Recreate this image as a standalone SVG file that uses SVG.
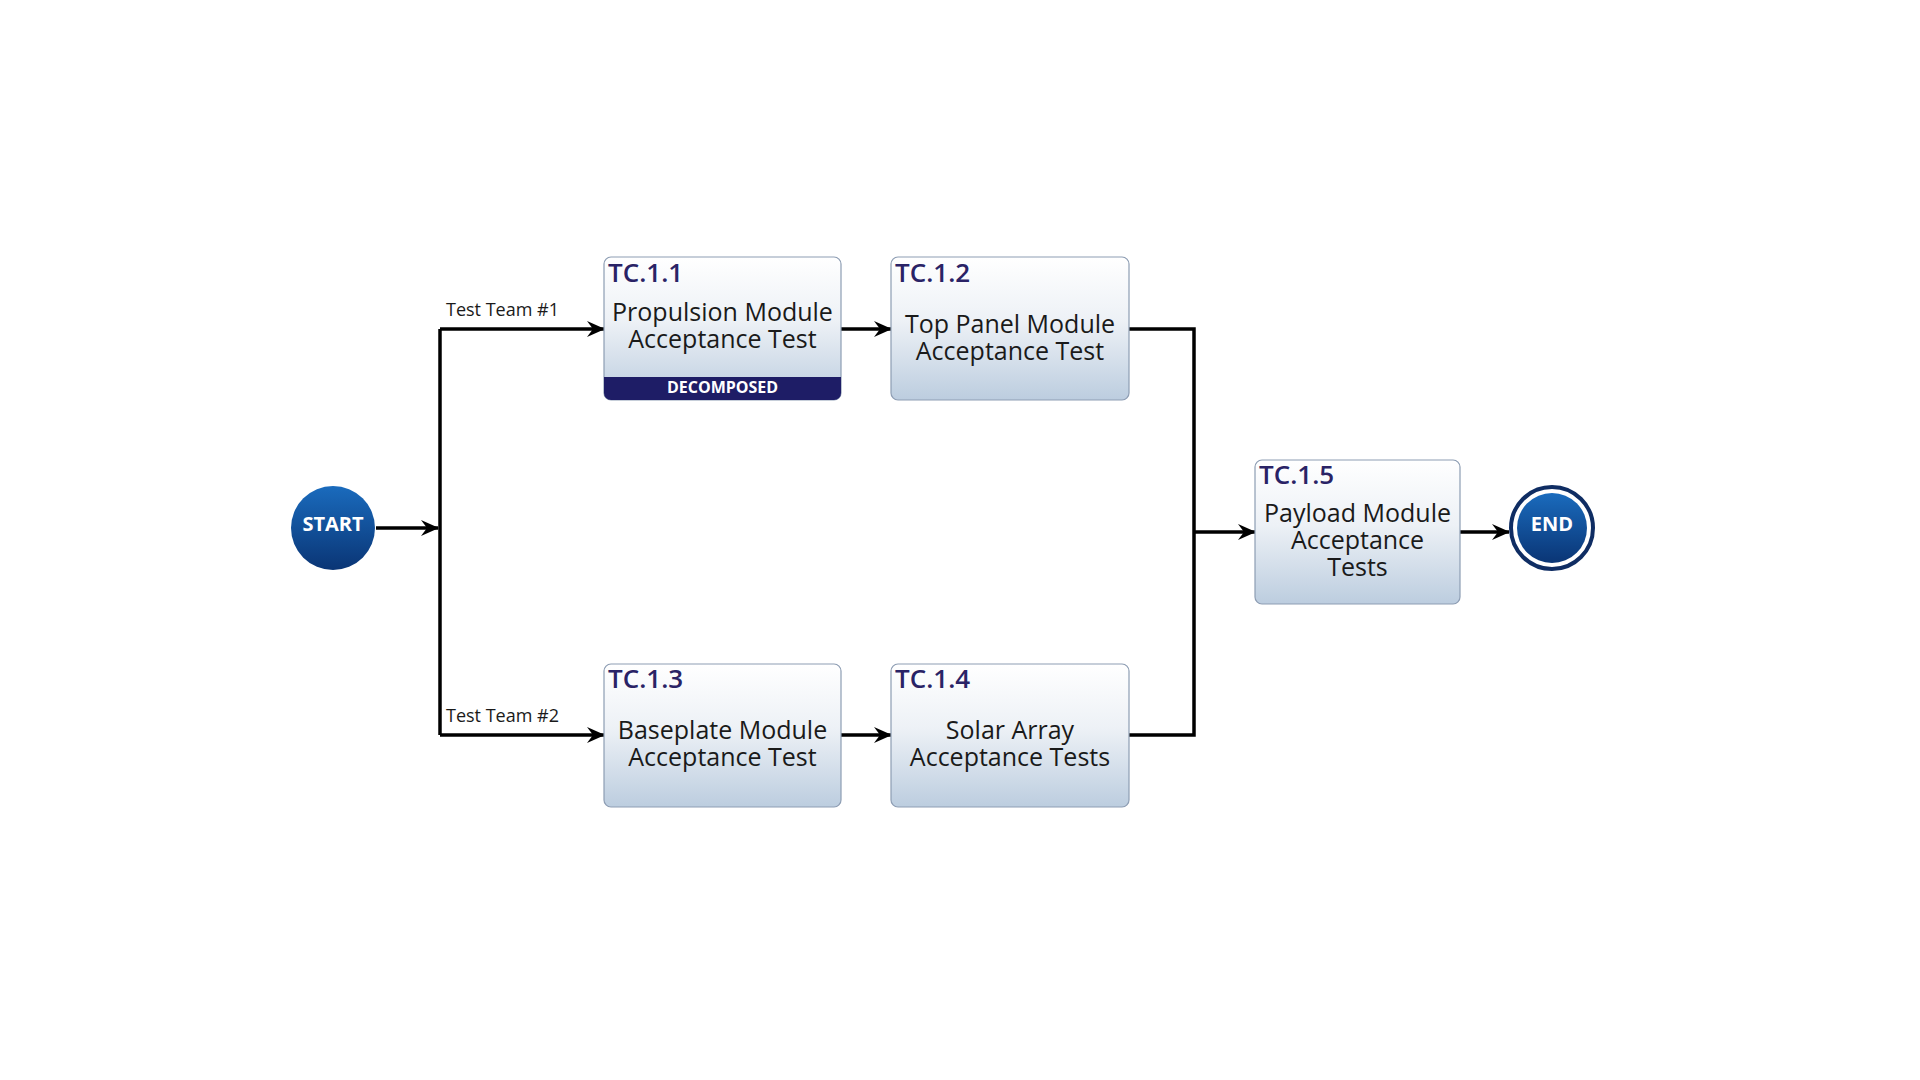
<svg xmlns="http://www.w3.org/2000/svg" width="1920" height="1080" viewBox="0 0 1920 1080">
<defs>
  <linearGradient id="boxGrad" x1="0" y1="0" x2="0" y2="1">
    <stop offset="0" stop-color="#ffffff"/>
    <stop offset="0.45" stop-color="#edf1f6"/>
    <stop offset="1" stop-color="#bccddf"/>
  </linearGradient>
  <linearGradient id="circGrad" x1="0" y1="0" x2="0" y2="1">
    <stop offset="0" stop-color="#1a6bbd"/>
    <stop offset="1" stop-color="#0a3575"/>
  </linearGradient>
  <marker id="arrow" viewBox="0 0 18 16" refX="17" refY="8" markerWidth="18" markerHeight="16" markerUnits="userSpaceOnUse" orient="auto">
    <path d="M0,0 L18,8 L0,16 L6,8 Z" fill="#000"/>
  </marker>
  <style>
    .box { fill: url(#boxGrad); stroke: #8d9db3; stroke-width: 1.2; }
    .id { font-family: "Open Sans", "Noto Sans", sans-serif; font-size: 26px; font-weight: 600; fill: #2a2366; }
    .body { font-family: "Open Sans", "Noto Sans", sans-serif; font-size: 25px; fill: #1a1a1a; text-anchor: middle; }
    .lbl { font-family: "Open Sans", "Noto Sans", sans-serif; font-size: 18px; fill: #1a1a1a; }
    .circ { font-family: "Open Sans", "Noto Sans", sans-serif; font-size: 20px; font-weight: 700; fill: #ffffff; text-anchor: middle; }
    .conn { fill: none; stroke: #000; stroke-width: 3.5; }
  </style>
</defs>
<rect width="1920" height="1080" fill="#ffffff"/>

<g id="connectors">
  <path class="conn" d="M376,528 L438,528" marker-end="url(#arrow)"/>
  <path class="conn" d="M440,329 L440,735"/>
  <path class="conn" d="M440,329 L604,329" marker-end="url(#arrow)"/>
  <path class="conn" d="M440,735 L604,735" marker-end="url(#arrow)"/>
  <path class="conn" d="M841,329 L891,329" marker-end="url(#arrow)"/>
  <path class="conn" d="M841,735 L891,735" marker-end="url(#arrow)"/>
  <path class="conn" d="M1129,329 L1194,329 L1194,735 L1129,735"/>
  <path class="conn" d="M1194,532 L1255,532" marker-end="url(#arrow)"/>
  <path class="conn" d="M1460,532 L1509,532" marker-end="url(#arrow)"/>
  <text class="lbl" x="446" y="316">Test Team #1</text>
  <text class="lbl" x="446" y="722">Test Team #2</text>
</g>

<g id="start">
  <circle cx="333" cy="528" r="42" fill="url(#circGrad)"/>
  <text class="circ" x="333" y="531">START</text>
</g>

<g id="tc111">
  <rect class="box" x="604" y="257" width="237" height="143" rx="7"/>
  <path d="M604,377 L841,377 L841,393 A7,7 0 0 1 834,400 L611,400 A7,7 0 0 1 604,393 Z" fill="#1e1d66"/>
  <text class="id" x="608" y="282">TC.1.1</text>
  <text class="body" x="722.5" y="321">Propulsion Module</text>
  <text class="body" x="722.5" y="348">Acceptance Test</text>
  <text x="722.5" y="393" font-family="Open Sans, Noto Sans, sans-serif" font-size="16" font-weight="700" fill="#ffffff" text-anchor="middle">DECOMPOSED</text>
</g>

<g id="tc112">
  <rect class="box" x="891" y="257" width="238" height="143" rx="7"/>
  <text class="id" x="895" y="282">TC.1.2</text>
  <text class="body" x="1010" y="333">Top Panel Module</text>
  <text class="body" x="1010" y="360">Acceptance Test</text>
</g>

<g id="tc113">
  <rect class="box" x="604" y="664" width="237" height="143" rx="7"/>
  <text class="id" x="608" y="688">TC.1.3</text>
  <text class="body" x="722.5" y="739">Baseplate Module</text>
  <text class="body" x="722.5" y="766">Acceptance Test</text>
</g>

<g id="tc114">
  <rect class="box" x="891" y="664" width="238" height="143" rx="7"/>
  <text class="id" x="895" y="688">TC.1.4</text>
  <text class="body" x="1010" y="739">Solar Array</text>
  <text class="body" x="1010" y="766">Acceptance Tests</text>
</g>

<g id="tc115">
  <rect class="box" x="1255" y="460" width="205" height="144" rx="7"/>
  <text class="id" x="1259" y="484">TC.1.5</text>
  <text class="body" x="1357.5" y="522">Payload Module</text>
  <text class="body" x="1357.5" y="549">Acceptance</text>
  <text class="body" x="1357.5" y="576">Tests</text>
</g>

<g id="end">
  <circle cx="1552" cy="528" r="41" fill="#ffffff" stroke="#0f2d63" stroke-width="4"/>
  <circle cx="1552" cy="528" r="35" fill="url(#circGrad)"/>
  <text class="circ" x="1552" y="531">END</text>
</g>
</svg>
